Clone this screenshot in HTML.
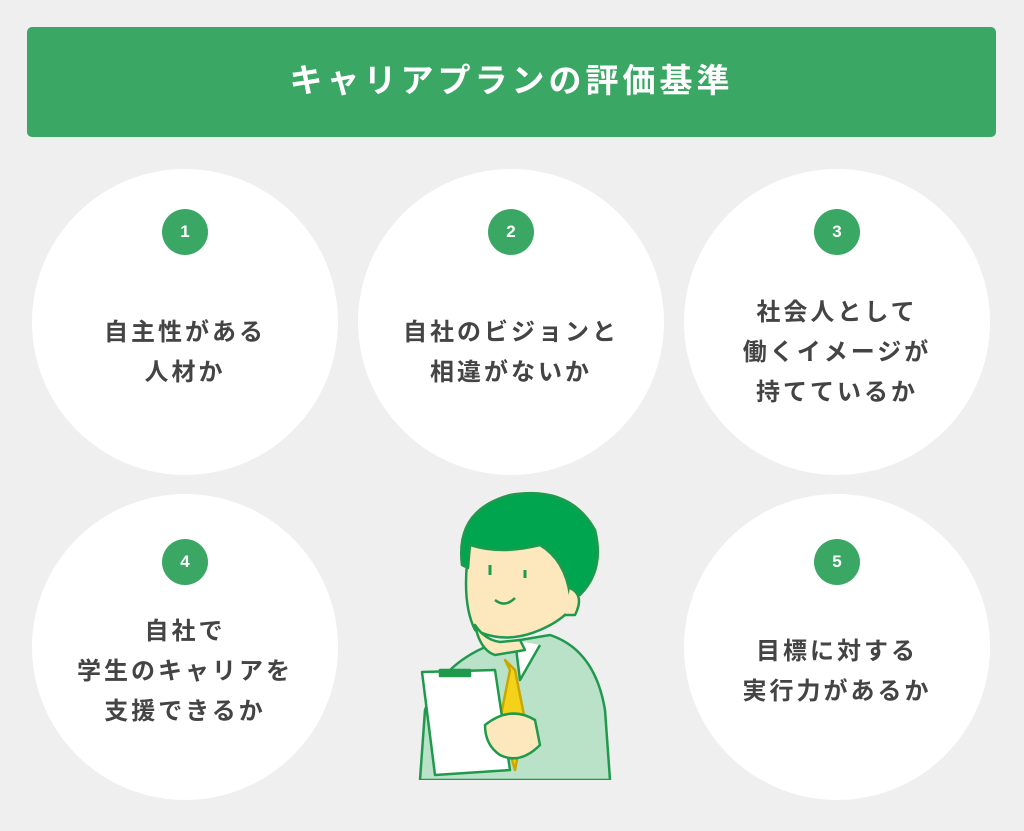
<!DOCTYPE html>
<html><head><meta charset="utf-8"><style>
body{margin:0;width:1024px;height:831px;background:#efefef;position:relative;overflow:hidden;font-family:"Liberation Sans","Noto Sans CJK JP",sans-serif;}
.hd{position:absolute;left:27px;top:27px;width:969px;height:110px;background:#3aa864;border-radius:5px;color:#fff;font-size:33px;font-weight:bold;text-align:center;line-height:108px;letter-spacing:4px;}
.c{position:absolute;width:306px;height:306px;border-radius:50%;background:#fff;}
.b{position:absolute;left:130px;width:46px;height:46px;border-radius:50%;background:#3aa864;color:#fff;font-weight:bold;font-size:17px;text-align:center;line-height:46px;}
.t{position:absolute;left:0;width:306px;text-align:center;font-size:24px;font-weight:bold;color:#444;line-height:40px;letter-spacing:3px;}
</style></head><body>
<div class="hd">キャリアプランの評価基準</div>
<div class="c" style="left:32px;top:169px"><div class="b" style="top:40px">1</div><div class="t" style="top:144px">自主性がある<br>人材か</div></div>
<div class="c" style="left:358px;top:169px"><div class="b" style="top:40px">2</div><div class="t" style="top:144px">自社のビジョンと<br>相違がないか</div></div>
<div class="c" style="left:684px;top:169px"><div class="b" style="top:40px">3</div><div class="t" style="top:124px">社会人として<br>働くイメージが<br>持てているか</div></div>
<div class="c" style="left:32px;top:494px"><div class="b" style="top:45px">4</div><div class="t" style="top:118px">自社で<br>学生のキャリアを<br>支援できるか</div></div>
<div class="c" style="left:684px;top:494px"><div class="b" style="top:45px">5</div><div class="t" style="top:138px">目標に対する<br>実行力があるか</div></div>
<svg style="position:absolute;left:400px;top:480px" width="230" height="300" viewBox="0 0 230 300" fill="none" stroke="#1f9a4c" stroke-width="2.5" stroke-linejoin="round">
<path d="M20 300 L25 230 Q40 185 90 165 L150 155 Q195 170 205 230 L210 300 Z" fill="#b9e2c8"/>
<path d="M115 160 L120 200 L140 165" fill="#fff"/>
<path d="M105 180 L110 190 L100 240 L115 290 L125 240 L115 190 Z" fill="#f5d21a" stroke="#c9a800"/>
<path d="M70 60 Q60 120 75 150 Q105 165 140 150 Q175 135 180 110 L175 70 Q130 40 70 60 Z" fill="#fde8be"/>
<path d="M75 145 Q85 160 100 162 L120 160 L125 170 L95 175 Q80 170 75 145Z" fill="#fde8be"/>
<path d="M62 85 Q55 30 110 15 Q170 5 195 50 Q205 90 180 115 L170 115 Q165 80 140 65 Q100 75 70 65 L68 88 Z" fill="#00a550"/>
<path d="M170 108 Q185 115 175 135 L165 135" fill="#fde8be"/>
<path d="M90 85 v10 M125 90 v8" stroke-width="3"/>
<path d="M95 120 Q105 128 115 118"/>
<path d="M22 192 L95 190 L110 290 L35 295 Z" fill="#fff"/>
<path d="M40 190 h30 v6 h-30 z" fill="#1f9a4c"/>
<path d="M85 245 Q110 225 135 240 L140 265 Q120 285 100 275 Q85 265 85 245Z" fill="#fde8be"/>
</svg>
</body></html>
